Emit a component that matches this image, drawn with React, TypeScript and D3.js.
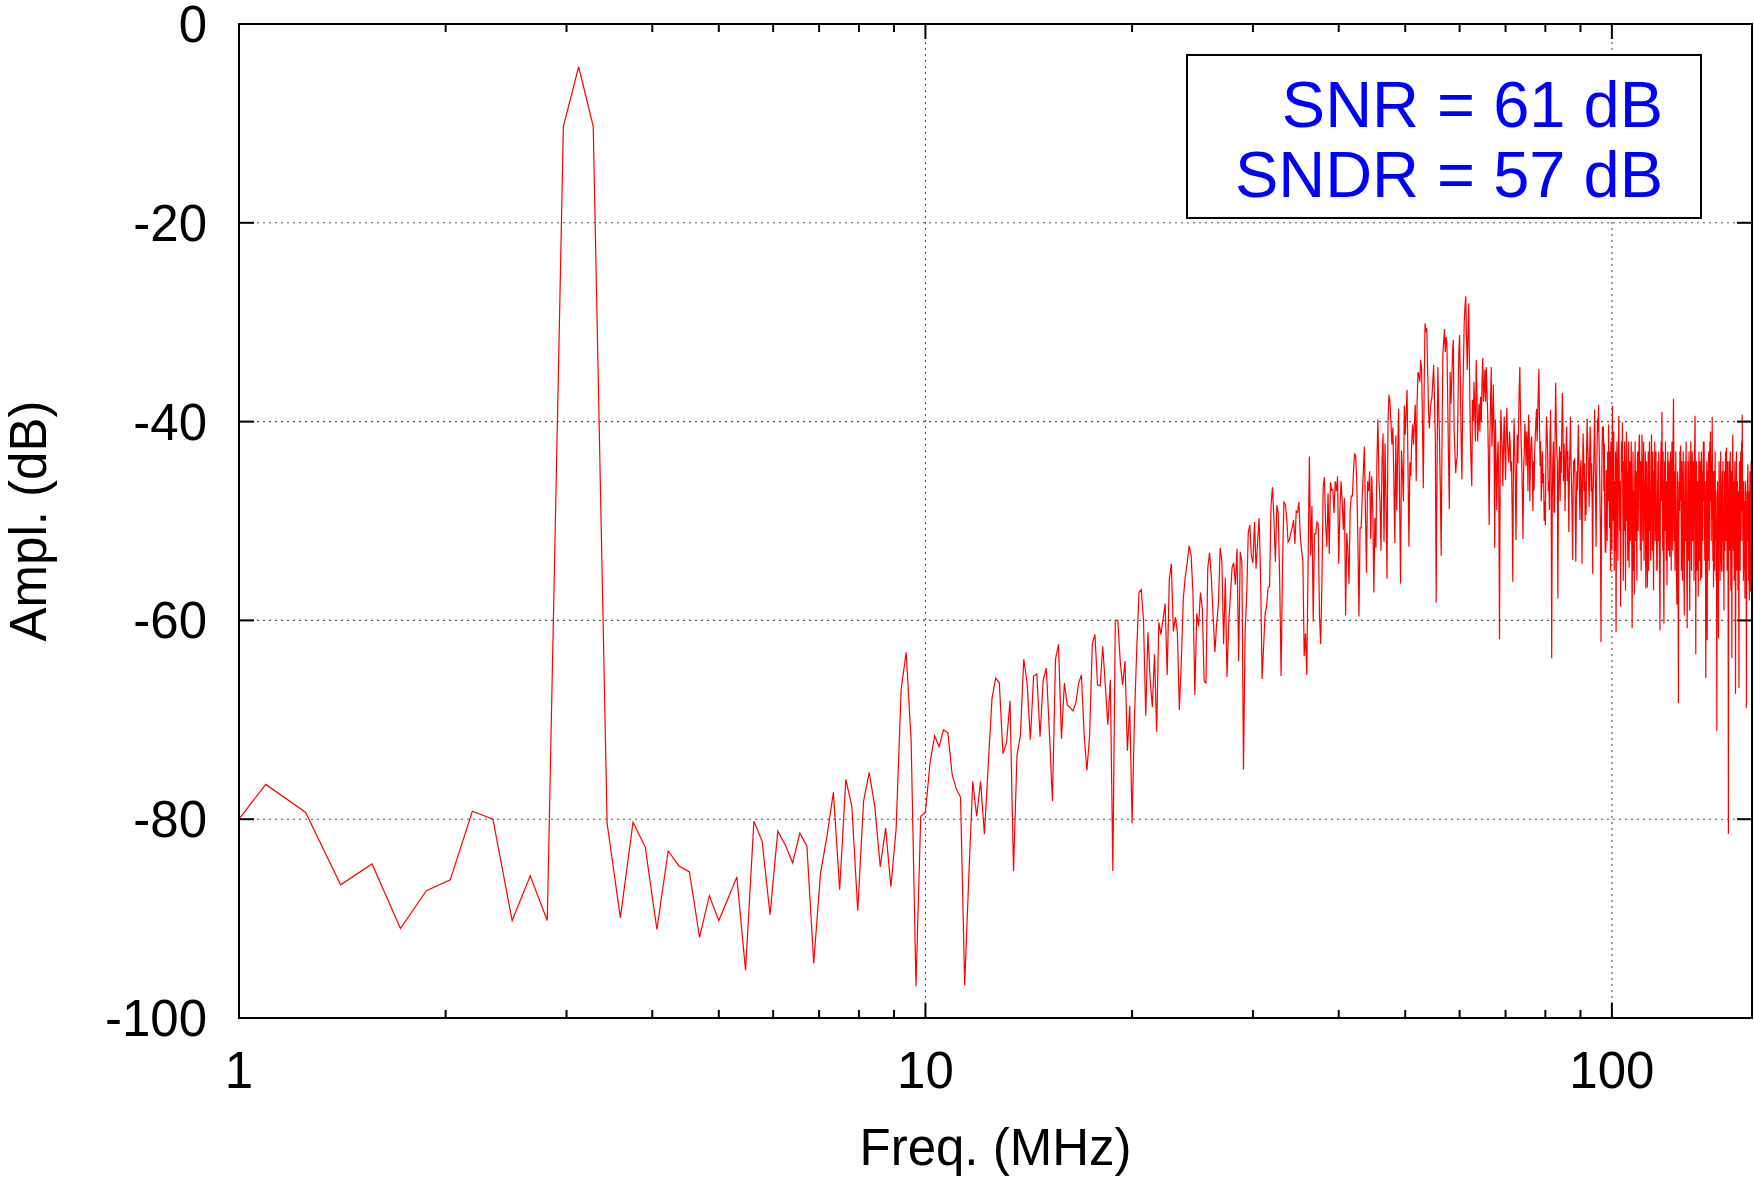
import React from 'react';
import * as d3 from 'd3';

// FFT bin width in MHz (bin k sits at k * binWidthMHz)
const binWidthMHz = 0.15625;

// Amplitude (dB) per FFT bin
const lowBandStart = 6;
const lowBand = [
  -82.5, -76.5, -79.3, -86.6, -84.5, -91.0, -87.2, -86.1, -79.2, -80.0,
  -90.2, -85.7, -90.2, -10.3, -4.3, -10.3, -80.4, -89.9, -80.3, -82.8,
  -91.1, -83.2, -84.7, -85.3, -91.9, -87.7, -90.2, -88.0, -85.8, -95.2,
  -80.2, -82.2, -89.6, -81.2, -82.6, -84.4, -81.4, -82.7, -94.5, -85.5,
  -81.7, -77.3, -87.1, -76.0, -78.7, -89.2, -78.2, -75.3, -78.7, -84.8,
  -80.9, -86.8, -81.0, -66.9, -63.2, -72.1, -96.8, -79.7, -79.3, -74.3,
  -71.6, -72.7, -71.0, -71.3, -75.5, -77.0, -77.8, -96.7, -86.0, -76.2,
  -79.7, -76.2, -81.5, -74.6, -67.9, -65.8, -66.3, -73.4, -72.3, -68.1,
  -85.2, -73.6, -71.6, -63.9, -66.3, -72.0, -65.6, -65.4, -71.7, -66.0,
  -64.8, -71.3, -78.2, -63.9, -62.4, -71.9, -66.3, -68.5, -68.8, -69.1,
  -68.3, -66.3, -65.5, -71.6, -75.1, -71.6, -62.4, -61.4, -66.5, -66.6,
  -62.6, -66.5, -70.5, -66.0, -85.2, -60.0, -60.0, -64.1, -66.5, -64.1,
  -73.1, -68.6,
];

const midBandStart = 128;
const midBand = [
  -80.4, -70.0, -63.0, -57.2, -56.9, -60.0, -69.6, -61.2, -66.0, -68.7,
  -63.4, -71.2, -60.2, -61.4, -59.9, -58.3, -65.5, -55.9, -54.3, -61.1,
  -59.7, -61.2, -69.0, -64.0, -57.8, -55.6, -54.2, -52.5, -53.4, -57.2,
  -67.5, -59.3, -60.6, -57.2, -58.8, -66.1, -66.3, -54.7, -53.2, -55.7,
  -59.6, -63.2, -60.3, -58.3, -52.7, -54.1, -62.4, -55.7, -65.7, -60.3,
  -57.5, -54.7, -54.2, -56.4, -52.8, -64.1, -53.1, -54.1, -75.0, -61.3,
  -57.6, -51.2, -50.4, -53.5, -54.2, -50.1, -54.8, -52.2, -49.7, -55.9,
  -65.9, -62.6, -59.3, -58.6, -56.7, -56.6, -48.4, -46.6, -49.9, -54.1,
  -48.4, -49.2, -55.9, -65.6, -54.6, -48.1, -48.3, -49.7, -52.1, -51.9,
  -51.2, -50.7, -49.9, -52.3, -49.0, -49.1, -48.1, -51.5, -52.9, -54.1,
  -63.6, -61.3, -65.5, -54.1, -43.5, -53.5, -48.5, -60.1, -51.3, -51.3,
  -50.1, -50.3, -59.5, -62.4, -56.0, -46.6, -45.6, -50.3, -52.6, -47.2,
  -53.3, -46.1, -46.9, -46.8, -49.2,
];

const upperBandStart = 253;
const upperBand = [
  -46, -47, -45.5, -54.3, -49, -46, -48, -50.9, -47.7, -59.5,
  -51.2, -53, -56.3, -49, -47.5, -47.5, -45, -43.2, -43.5, -46.2,
  -52, -59.6, -50.7, -50.7, -47.5, -45, -42.5, -49, -55.2, -46,
  -47, -45, -51.8, -45.5, -49, -57.2, -49.7, -52.7, -44, -39.8,
  -45.9, -48, -53, -44, -41.2, -52.1, -42.2, -48, -55.8, -40,
  -37.3, -38, -40, -42.3, -40.6, -46, -52.2, -41.4, -48.9, -43,
  -38.7, -48, -56.3, -42.9, -45, -48, -38.4, -41.3, -39, -36.8,
  -45, -52.6, -44.1, -45.5, -42, -40.3, -42.3, -40, -38.3, -46,
  -38, -35, -35.3, -36, -33.8, -34.7, -40, -46.7, -36, -30.1,
  -31, -30.6, -35, -38.8, -40.7, -39, -38, -37.5, -36, -34.3,
  -38, -41.8, -58.2, -45, -34.5, -38.7, -42, -47, -53.5, -42,
  -33.3, -32, -30.7, -33, -31.5, -32, -38, -44, -48.8, -35,
  -38.2, -36, -33, -31.8, -40.9, -43, -45.2, -44, -43.5, -38,
  -33, -31.3, -36, -42, -45.8, -38, -34.1, -30, -28.4,
];

const peakBandStart = 392;
const peakBand = [
  -27.4, -31.5, -34.8, -31, -28.1, -35, -41, -44, -46.5, -37.8,
  -40, -36, -39.2, -42, -33.8, -37, -42, -40, -38.2, -41,
  -37.5, -40, -36, -33.6, -38, -36.8, -34.8, -38, -34.5, -37,
  -39.5, -44, -50.4, -42, -38, -34.5, -42.5, -40, -36.3, -41,
  -52.7, -39.8, -44, -48.9, -43.9, -42, -47, -61.9, -45, -38.8,
  -41, -43, -46.5, -42, -39.5, -43, -45.9, -41, -38.6, -42,
  -43.4, -44.1, -41, -42.2, -45, -44, -48.7, -56.1, -44, -39.7,
  -43, -46, -51.9, -45, -41.3, -44.2, -40, -36.8, -34.5, -39,
  -42, -44, -47.5, -51.8, -45, -43, -40.2, -42, -44.5, -41,
  -42.2, -47, -39.3, -41, -48, -43.9, -42, -41.5, -43.9, -49,
  -44, -46.9, -43, -41.5, -40, -38.7, -42, -39.5, -37, -34.7,
  -40, -44.5, -42, -48, -46, -43, -46.2, -45.2, -50, -48,
  -50.4, -43, -39.5, -41, -43.2, -47, -46, -48.9, -42, -38.8,
  -45, -63.8, -48, -44, -42, -49, -49.2, -41, -36.1, -40,
  -43, -44.2, -57.8, -47, -44, -42.5, -48, -43, -45.2, -41,
  -37.1, -40, -46, -42.2, -43.9, -49, -44, -42, -40.5, -46,
  -42.9, -47, -51.1, -45, -43, -39.5, -44, -46.5, -49, -53.9,
  -47, -43.9, -45, -43.7, -48, -54.1, -49, -45, -46.9, -43,
  -40.3, -44, -47, -49.9, -45, -43.9, -48, -54.3, -46, -41.2,
  -43, -47, -44.2, -50, -46, -49.4, -43, -39.7, -42, -43.5,
  -46, -48.6, -44, -40.5, -42, -47, -44.2, -48, -55.3, -47,
  -44.9, -42, -38.8, -44, -48, -52.6, -46, -43, -39.7, -41,
  -38.3, -42, -44.5, -48, -52, -62.2, -50, -44, -40.5, -42,
];

const topBandStart = 622;
const topBand = [
  -40.5, -47, -42.2, -50, -53, -53.2, -45, -44.9, -52, -43,
  -48, -40.3, -46, -50.7, -43, -55, -42, -47, -53, -38.4,
  -44, -50, -41, -55, -46, -53, -43, -61.2, -48, -42,
  -47, -54, -44, -39.4, -45, -51, -46, -58.6, -47, -42,
  -45, -40.1, -49, -56, -44, -51, -42, -48, -57, -46,
  -41, -50, -45, -54, -43, -42, -54.7, -48, -44, -52,
  -46, -42, -51, -60.8, -49, -43, -55, -47, -57.4, -46,
  -42, -52, -45, -49, -56, -44, -43, -51, -46, -42,
  -41.3, -48, -53, -44, -55, -47, -41.3, -45, -52, -48,
  -42, -54, -46, -50, -43, -56.8, -51, -44, -53, -56.7,
  -48, -43, -55, -46, -42, -51, -47, -54, -44, -41.3,
  -47, -53, -43, -49, -57, -45, -48, -42, -52, -46,
  -43, -50, -55, -54.9, -47, -44, -52, -43, -49, -56,
  -61, -49, -44, -42, -48, -39, -47, -53, -43, -55,
  -60.3, -48, -44, -51, -42, -49, -54, -46, -56.5, -49,
  -43, -48, -53, -44, -51, -53.6, -46, -43, -49, -55,
  -45, -42, -48, -53, -41, -37.7, -46, -52, -45, -55,
  -48, -43, -52, -56, -58.4, -50, -45, -54, -68.3, -51,
  -46, -49, -43, -48, -42.4, -47, -55, -44, -50, -56,
  -48, -43, -49, -55, -59.5, -49, -44, -52, -46, -42,
  -50, -56, -60.8, -49, -44, -54, -47, -43, -52, -59,
  -50, -45, -42, -49, -55, -46, -43, -52, -48, -44,
  -50, -56, -46, -42, -39.4, -48, -63.4, -51, -44, -49,
  -55, -46, -50, -57.6, -49, -43, -47, -54, -44, -50,
  -56, -47, -43, -55.7, -49, -45, -52, -44, -42, -48,
  -42, -49, -54, -46, -51, -65.8, -52, -47, -44, -62,
  -50, -45, -54, -43, -49, -55, -46, -42, -48, -41,
  -46, -52, -44, -49, -39.5, -47, -54, -45, -56.7, -50,
  -45, -55, -48, -43, -52, -47, -56, -50, -71.1, -51,
  -46, -50, -55, -61.8, -49, -44, -52, -46, -56, -47,
  -43, -50, -54, -55.1, -48, -45, -52, -44, -55, -49,
  -59, -50, -45, -53, -47, -43, -52, -46, -42.6, -49,
  -55, -47, -44, -52, -81.5, -54, -48, -44, -53, -47,
  -43, -51, -57, -48, -45, -63.8, -50, -44, -41.3, -47,
  -53, -46, -50, -56, -47, -44, -52, -67.4, -53, -47,
  -43, -50, -55, -46, -49, -57, -47, -52, -66.8, -50,
  -44, -49, -55, -46, -43, -52, -47, -42, -49, -39.3,
  -45, -52, -47, -56, -46, -50, -55, -48, -57.8, -51,
  -46, -53, -48, -68.8, -54, -47, -52, -46, -44.3, -50,
  -56, -47, -52, -58, -48, -45, -53, -57.1, -50, -44,
  -54, -51, -48,
];

const spectrumSegments = [
  { start: lowBandStart, values: lowBand },
  { start: midBandStart, values: midBand },
  { start: upperBandStart, values: upperBand },
  { start: peakBandStart, values: peakBand },
  { start: topBandStart, values: topBand },
];

// Axes
const xDomain = [1, 160];
const yDomain = [-100, 0];
const xMajorTicks = [1, 10, 100];
const xMajorLabels = ['1', '10', '100'];
const xMinorTicks = [2, 3, 4, 5, 6, 7, 8, 9, 20, 30, 40, 50, 60, 70, 80, 90];
const yTicks = [0, -20, -40, -60, -80, -100];
const yLabels = ['0', '-20', '-40', '-60', '-80', '-100'];
const xGridTicks = [10, 100];
const yGridTicks = [-20, -40, -60, -80];
const xTitle = 'Freq. (MHz)';
const yTitle = 'Ampl. (dB)';
const legendLines = ['SNR = 61 dB', 'SNDR = 57 dB'];

const FONT = '"Liberation Sans", Arial, Helvetica, sans-serif';

export default function App() {
  const W = 1754;
  const H = 1180;
  const plot = { left: 239, right: 1752, top: 24, bottom: 1018 };

  const x = d3.scaleLog().domain(xDomain).range([plot.left, plot.right]);
  const y = d3.scaleLinear().domain(yDomain).range([plot.bottom, plot.top]);

  const points: [number, number][] = [];
  spectrumSegments.forEach((seg) => {
    seg.values.forEach((v, i) => {
      points.push([(seg.start + i) * binWidthMHz, v]);
    });
  });

  const line = d3
    .line<[number, number]>()
    .x((d) => x(d[0]))
    .y((d) => y(d[1]));

  const majorLen = 15;
  const minorLen = 8;
  const axisStroke = 2;

  return (
    <svg
      width={W}
      height={H}
      viewBox={`0 0 ${W} ${H}`}
      style={{ position: 'absolute', left: 0, top: 0, background: '#fff' }}
      fontFamily={FONT}
    >
      <rect x={0} y={0} width={W} height={H} fill="#fff" />
      <defs>
        <clipPath id="plotClip">
          <rect
            x={plot.left}
            y={plot.top}
            width={plot.right - plot.left}
            height={plot.bottom - plot.top}
          />
        </clipPath>
      </defs>

      {/* grid */}
      <g stroke="#555" strokeWidth={1.1} strokeDasharray="2,4" fill="none">
        {yGridTicks.map((t) => (
          <line key={'gy' + t} x1={plot.left} x2={plot.right} y1={y(t)} y2={y(t)} />
        ))}
        {xGridTicks.map((t) => (
          <line key={'gx' + t} x1={x(t)} x2={x(t)} y1={plot.top} y2={plot.bottom} />
        ))}
      </g>

      {/* data */}
      <g clipPath="url(#plotClip)">
        <path d={line(points) || ''} fill="none" stroke="#ff0000" strokeWidth={1.2} strokeLinejoin="miter" />
      </g>

      {/* legend box */}
      <rect x={1187} y={55} width={514} height={163} fill="#fff" stroke="#000" strokeWidth={2} />
      <g fill="#0000ff" fontSize={65} textAnchor="end">
        {legendLines.map((s, i) => (
          <text key={s} x={1663} y={127 + i * 70}>
            {s}
          </text>
        ))}
      </g>

      {/* ticks */}
      <g stroke="#000" strokeWidth={axisStroke}>
        {yTicks.map((t) => (
          <g key={'ty' + t}>
            <line x1={plot.left} x2={plot.left + majorLen} y1={y(t)} y2={y(t)} />
            <line x1={plot.right} x2={plot.right - majorLen} y1={y(t)} y2={y(t)} />
          </g>
        ))}
        {xMajorTicks.map((t) => (
          <g key={'tx' + t}>
            <line x1={x(t)} x2={x(t)} y1={plot.bottom} y2={plot.bottom - majorLen} />
            <line x1={x(t)} x2={x(t)} y1={plot.top} y2={plot.top + majorLen} />
          </g>
        ))}
        {xMinorTicks.map((t) => (
          <g key={'tm' + t}>
            <line x1={x(t)} x2={x(t)} y1={plot.bottom} y2={plot.bottom - minorLen} />
            <line x1={x(t)} x2={x(t)} y1={plot.top} y2={plot.top + minorLen} />
          </g>
        ))}
      </g>

      {/* frame */}
      <rect
        x={plot.left}
        y={plot.top}
        width={plot.right - plot.left}
        height={plot.bottom - plot.top}
        fill="none"
        stroke="#000"
        strokeWidth={axisStroke}
      />

      {/* tick labels */}
      <g fontSize={51} fill="#000">
        {yTicks.map((t, i) => (
          <text key={'ly' + t} x={207} y={y(t) + 18} textAnchor="end">
            {yLabels[i]}
          </text>
        ))}
        {xMajorTicks.map((t, i) => (
          <text key={'lx' + t} x={x(t)} y={1088} textAnchor="middle">
            {xMajorLabels[i]}
          </text>
        ))}
      </g>

      {/* axis titles */}
      <text x={(plot.left + plot.right) / 2} y={1165} fontSize={51} textAnchor="middle" fill="#000">
        {xTitle}
      </text>
      <text
        transform={`translate(46, ${(plot.top + plot.bottom) / 2}) rotate(-90)`}
        fontSize={51}
        textAnchor="middle"
        fill="#000"
      >
        {yTitle}
      </text>
    </svg>
  );
}
